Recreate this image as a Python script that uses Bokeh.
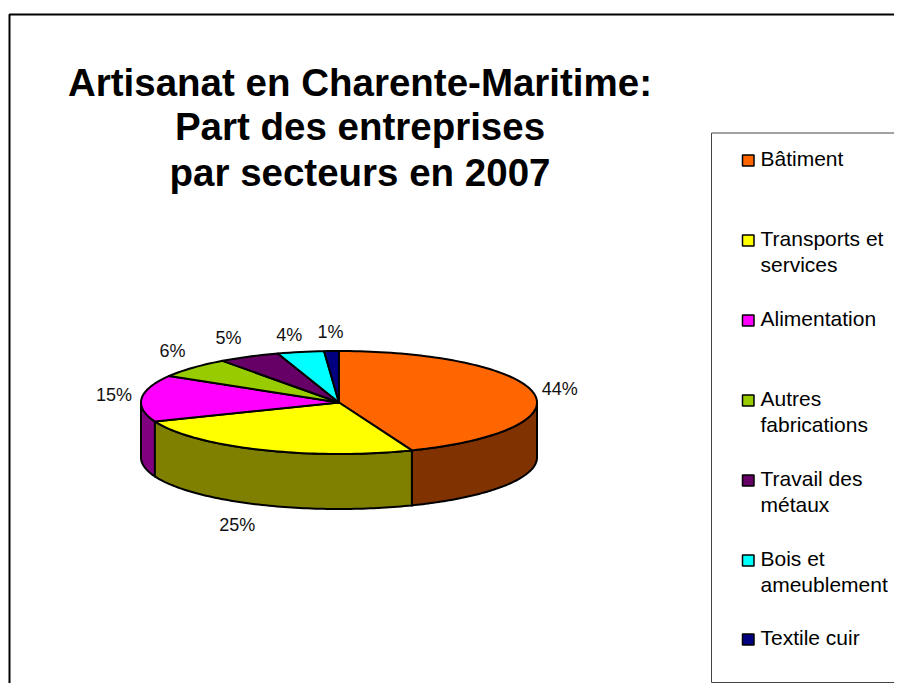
import numpy as np
from bokeh.plotting import figure
from bokeh.models import Range1d
from bokeh.core.properties import value
from bokeh.embed import file_html
from bokeh.resources import INLINE

# --- data ---
sectors = ["Bâtiment", "Transports et services", "Alimentation", "Autres fabrications",
           "Travail des métaux", "Bois et ameublement", "Textile cuir"]
shares = [44.0, 25.0, 14.6, 6.4, 5.0, 3.8, 1.2]
title_lines = ["Artisanat en Charente-Maritime:", "Part des entreprises", "par secteurs en 2007"]
legend_lines = [["Bâtiment"], ["Transports et", "services"], ["Alimentation"], ["Autres", "fabrications"],
                ["Travail des", "métaux"], ["Bois et", "ameublement"], ["Textile cuir"]]
top_colors = ["#FF6600", "#FFFF00", "#FF00FF", "#99CC00", "#660066", "#00FFFF", "#000080"]
side_colors = ["#803300", "#808000", "#800080", "#4C6600", "#330033", "#008080", "#000040"]

# --- layout (picture pixels) ---
W, H = 894, 683
CX, CY, RX, RY, DEPTH = 338.5, 402.0, 198.0, 51.5, 55.0
label_k = 1.14
label_nudge = [(-1, -2), (-12, 14), (0, -3), (0, -12), (-8, -12), (-6, -10), (0, -12)]
title_y = [82, 126, 172]
legend_y = [157.5, 237.5, 317.5, 397.5, 477.5, 557.5, 636.5]
legend_line_gap = 26.5

p = figure(width=W, height=H, output_backend="svg", toolbar_location=None,
           x_axis_type=None, y_axis_type=None, min_border=0,
           x_range=Range1d(0, W), y_range=Range1d(H, 0))
p.outline_line_color = None
p.grid.visible = False
p.background_fill_color = "white"
p.border_fill_color = "white"

def rim(theta, dy=0.0):
    return CX + RX * np.sin(theta), CY - RY * np.cos(theta) + dy

# outer frame
p.line([W, 9, 9], [14, 14, H], line_color="black", line_width=2)

cum = np.concatenate([[0.0], np.cumsum(shares)]) / sum(shares) * 2 * np.pi

# side faces, drawn from the back to the front
order = [2, 0, 1, 3, 4, 5, 6]
for i in order:
    a = max(cum[i], np.pi / 2)
    b = min(cum[i + 1], 3 * np.pi / 2)
    if b <= a:
        continue
    t = np.linspace(a, b, 80)
    xs, ys = rim(t)
    xb, yb = rim(t[::-1], DEPTH)
    p.patch(np.r_[xs, xb], np.r_[ys, yb], fill_color=side_colors[i],
            line_color="black", line_width=2, line_join="round")

# top faces
for i in range(len(shares)):
    t = np.linspace(cum[i], cum[i + 1], max(6, int(240 * shares[i] / 100)))
    xs, ys = rim(t)
    p.patch(np.r_[CX, xs], np.r_[CY, ys], fill_color=top_colors[i],
            line_color="black", line_width=2, line_join="round")

# percentage labels
lx, ly, lt = [], [], []
for i, s in enumerate(shares):
    m = (cum[i] + cum[i + 1]) / 2
    x = CX + label_k * RX * np.sin(m)
    y = CY - label_k * RY * np.cos(m)
    if np.cos(m) < 0:
        y += DEPTH
    lx.append(x + label_nudge[i][0])
    ly.append(y + label_nudge[i][1])
    lt.append(f"{round(s)}%")
p.text(lx, ly, text=lt, text_font=value("Liberation Sans"), text_font_size="18px",
       text_align="center", text_baseline="middle", text_color="#111111")

# title
p.text([359.5] * 3, title_y, text=title_lines, text_font=value("Liberation Sans"),
       text_font_style="bold", text_font_size="38.5px", text_align="center",
       text_baseline="middle", text_color="black")

# legend box
p.line([W, 711, 711, W], [132.5, 132.5, H - 1, H - 1], line_color="#444444", line_width=1)
for i, lines in enumerate(legend_lines):
    p.quad(left=[742], right=[753.5], top=[legend_y[i] - 3], bottom=[legend_y[i] + 8],
           fill_color=top_colors[i], line_color="black", line_width=1.5)
    p.text([760] * len(lines), [legend_y[i] + j * legend_line_gap for j in range(len(lines))],
           text=lines, text_font=value("Liberation Sans"), text_font_size="21px",
           text_align="left", text_baseline="middle", text_color="black")

open("out.html", "w").write(file_html(p, INLINE))
